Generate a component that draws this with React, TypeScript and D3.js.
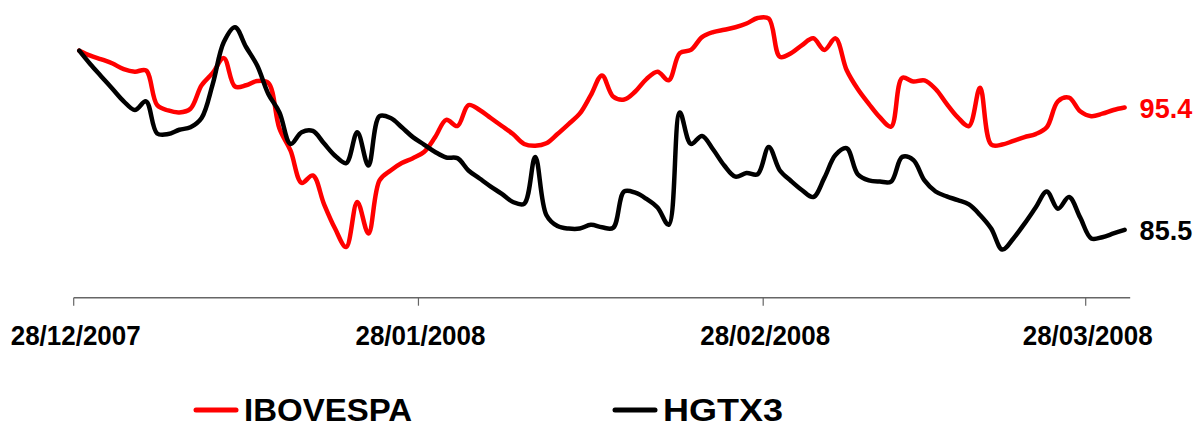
import React from "react";
import * as d3 from "d3";

// ---- data (index, base 100 on 28/12/2007), one value per calendar day ----
const START = Date.UTC(2007, 11, 28, 12);
const DAY = 86400000;

const ibovespa = [
  100.0, 99.6, 99.3, 98.96, 98.5, 98.3, 98.4, 95.6, 95.16, 95.0,
  95.3, 97.2, 98.2, 99.4, 97.1, 97.2, 97.55, 97.4, 93.7, 91.9,
  89.3, 89.9, 87.6, 85.6, 84.1, 87.75, 85.2, 89.5, 90.3, 90.9,
  91.3, 91.8, 93.0, 94.4, 93.9, 95.6, 95.2, 94.55, 93.9, 93.25,
  92.45, 92.3, 92.5, 93.25, 94.06, 94.9, 96.4, 98.0, 96.3, 96.05,
  96.7, 97.7, 98.3, 97.6, 99.8, 100.06, 101.1, 101.5, 101.7, 101.9,
  102.2, 102.65, 102.6, 99.5, 99.8, 100.46, 101.0, 100.06, 101.0, 98.44,
  96.9, 95.7, 94.6, 93.86, 97.8, 97.5, 97.6, 96.9, 95.7, 94.6,
  93.9, 97.0, 92.4, 92.4, 92.7, 93.0, 93.25, 93.8, 95.9, 96.2,
  95.1, 94.7, 94.9, 95.2, 95.4,
];

const hgtx3 = [
  100.0, 98.9, 97.9, 96.9, 95.9, 95.2, 95.9, 93.3, 93.25, 93.6,
  93.8, 94.55, 97.3, 100.7, 101.9, 100.3, 98.8, 96.5, 95.0, 92.45,
  93.4, 93.5, 92.5, 91.5, 90.9, 93.4, 90.7, 94.7, 94.55, 93.8,
  93.0, 92.4, 91.8, 91.35, 91.3, 90.3, 89.65, 89.0, 88.4, 87.75,
  87.6, 91.4, 86.7, 85.8, 85.6, 85.6, 85.9, 85.7, 85.65, 88.6,
  88.5, 88.0, 87.3, 85.9, 95.0, 92.45, 93.1, 92.0, 90.7, 89.8,
  90.1, 90.0, 92.2, 90.3, 89.45, 88.7, 88.15, 89.7, 91.55, 92.1,
  90.0, 89.5, 89.4, 89.4, 91.4, 91.15, 89.5, 88.6, 88.2, 87.9,
  87.55, 86.7, 85.6, 83.9, 84.8, 86.0, 87.3, 88.6, 87.2, 88.15,
  86.5, 84.8, 84.9, 85.2, 85.5,
];

const dates = ibovespa.map((_, i) => new Date(START + i * DAY));

const tickDates = [
  new Date(Date.UTC(2007, 11, 28)),
  new Date(Date.UTC(2008, 0, 28)),
  new Date(Date.UTC(2008, 1, 28)),
  new Date(Date.UTC(2008, 2, 28)),
];

const seriesNames = ["IBOVESPA", "HGTX3"];
const seriesColors = ["#FF0000", "#000000"];

export default function App() {
  React.useEffect(() => {
    document.body.style.margin = "0";
  }, []);

  const W = 1199;
  const H = 427;

  const x = d3
    .scaleUtc()
    .domain([new Date(Date.UTC(2007, 11, 28)), new Date(Date.UTC(2008, 2, 28))])
    .range([73.7, 1085.7]);
  const y = d3.scaleLinear().domain([80, 104]).range([297.7, 1.3]);

  const axisStart = x(new Date(Date.UTC(2007, 11, 28)));
  const axisEnd = x(new Date(Date.UTC(2008, 3, 1)));
  const axisY = y(80);

  const line = d3
    .line<number>()
    .x((_, i) => x(dates[i]))
    .y((d) => y(d))
    .curve(d3.curveCatmullRom.alpha(0.5));

  const fmt = d3.utcFormat("%d/%m/%Y");
  const series = [ibovespa, hgtx3];
  const font = "'Liberation Sans', Arial, sans-serif";

  const legendX = [196, 615];
  const legendTextLen = [168, 120];
  const legendY = 410;

  return (
    <svg
      width={W}
      height={H}
      style={{ position: "absolute", left: 0, top: 0, background: "#fff" }}
    >
      {/* axis */}
      <line x1={axisStart} x2={axisEnd} y1={axisY} y2={axisY} stroke="#666" strokeWidth={1.4} />
      {tickDates.map((d, i) => (
        <g key={i}>
          <line x1={x(d)} x2={x(d)} y1={axisY} y2={axisY + 8} stroke="#666" strokeWidth={1.2} />
          <text
            x={x(d) + 2}
            y={345}
            textAnchor="middle"
            fontFamily={font}
            fontWeight="bold"
            fontSize={27}
            textLength={130}
            lengthAdjust="spacingAndGlyphs"
            fill="#000"
          >
            {fmt(d)}
          </text>
        </g>
      ))}

      {/* lines */}
      {series.map((s, k) => (
        <path
          key={k}
          d={line(s) || ""}
          fill="none"
          stroke={seriesColors[k]}
          strokeWidth={4.5}
          strokeLinejoin="round"
          strokeLinecap="round"
        />
      ))}

      {/* end labels */}
      {series.map((s, k) => (
        <text
          key={k}
          x={x(dates[s.length - 1]) + 15}
          y={y(s[s.length - 1]) + 10}
          fontFamily={font}
          fontWeight="bold"
          fontSize={27}
          fill={seriesColors[k]}
        >
          {s[s.length - 1].toFixed(1)}
        </text>
      ))}

      {/* legend */}
      {seriesNames.map((n, k) => (
        <g key={n}>
          <line
            x1={legendX[k]}
            x2={legendX[k] + 40}
            y1={legendY}
            y2={legendY}
            stroke={seriesColors[k]}
            strokeWidth={5}
            strokeLinecap="round"
          />
          <text
            x={legendX[k] + 48}
            y={legendY + 11}
            fontFamily={font}
            fontWeight="bold"
            fontSize={32}
            textLength={legendTextLen[k]}
            lengthAdjust="spacingAndGlyphs"
            fill="#000"
          >
            {n}
          </text>
        </g>
      ))}
    </svg>
  );
}
